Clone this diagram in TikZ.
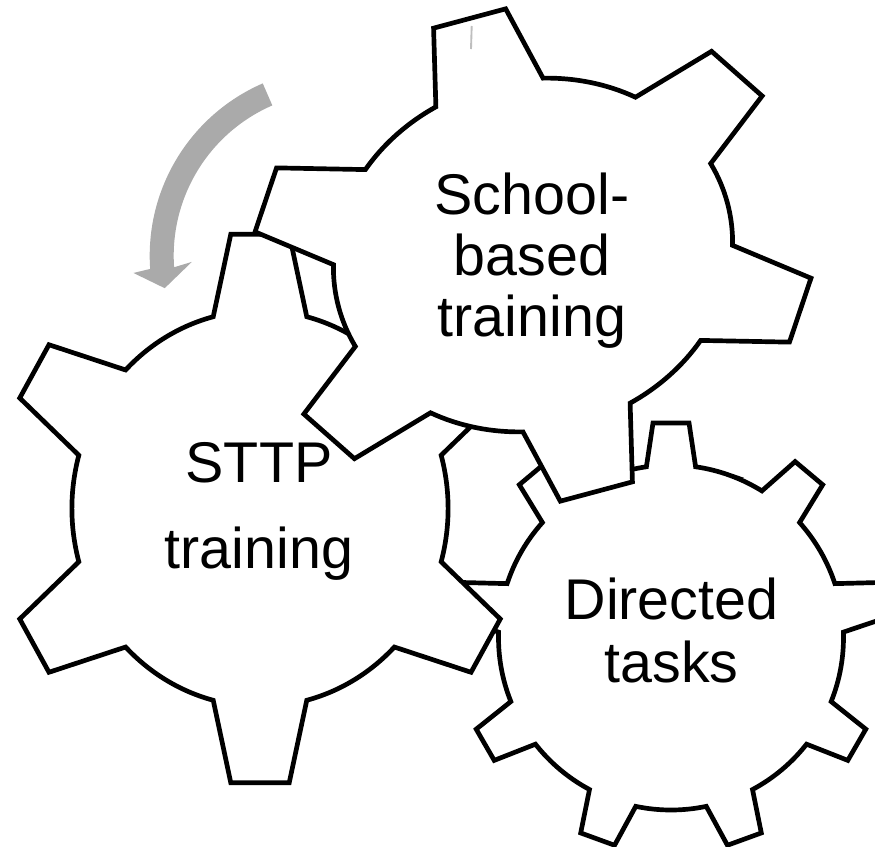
\documentclass[tikz,border=0pt]{standalone}
\usepackage{fontspec}
\setmainfont{Liberation Sans}
\definecolor{arrowgray}{RGB}{170,170,170}
\definecolor{markgray}{RGB}{190,190,190}
\tikzset{
every picture/.style={
line width=4pt
},
% gear outline: teeth, tip radius, root radius, tip half angle, root half angle
% (starts half way along a root arc, so the closing join stays smooth)
pics/gear/.style n args={5}{code={
\draw[fill=white] ({90-180/#1}:#3)
  \foreach \k [evaluate=\k as \a using 90+(\k-1)*360/#1] in {1,...,#1}{
    arc[start angle={\a-180/#1}, end angle={\a-#5}, radius=#3]
    -- ({\a-#4}:#2) -- ({\a+#4}:#2) -- ({\a+#5}:#3)
    arc[start angle={\a+#5}, end angle={\a+180/#1}, radius=#3]
  } -- cycle;
}}
}

\begin{document}
\begin{tikzpicture}[x=0.3mm, y=0.3mm,
gtext/.style = {align=center, inner sep=0pt, font=\fontsize{49}{#1}\selectfont}]
\useasboundingbox (0,0) rectangle (875,-846);
\clip (0,0) rectangle (875,-846);

% back to front
\pic at (671,-637.5) {gear={9}{215.3}{172.5}{4.8}{8.2}};
\pic[xscale=0.95] at (260,-508.5) {gear={6}{276}{198}{6.4}{14.4}};
\pic[rotate=15, xscale=1.15] at (533,-255) {gear={6}{247}{175}{7.55}{16}};

% turning arrow
\fill[arrowgray, shift={(337.7,-255.8)}] (113.5:188)
  arc[start angle=113.5, end angle=184, radius=188]
  -- (184.8:205) -- (190.6:176) -- (182.4:146) -- (184:164)
  arc[start angle=184, end angle=113.5, radius=164] -- cycle;
\draw[markgray, line width=1.6pt] (471.7,-26) -- (471,-49);

\node[gtext=52] at (532,-261) (school) {School-\\based\\training};
\node[gtext=73.4] at (259,-511.5) (sttp) {STTP\\training};
\node[gtext=53.8] at (671.5,-630.5) (tasks) {Directed\\tasks};

\end{tikzpicture}
\end{document}
